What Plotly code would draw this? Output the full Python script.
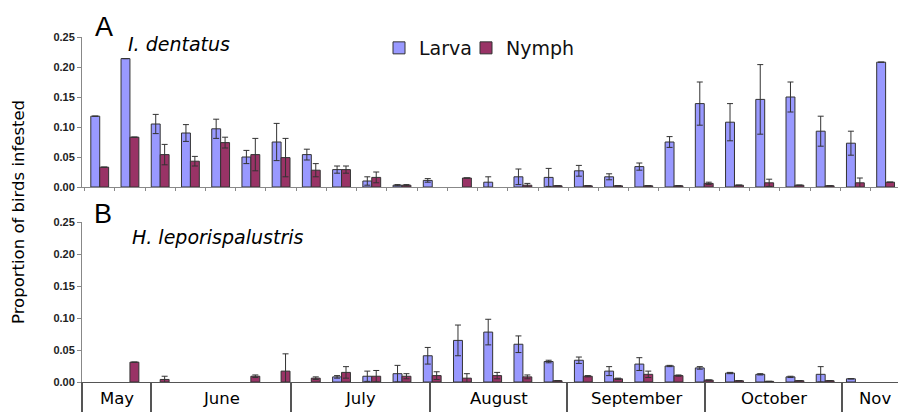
import plotly.graph_objects as go

# ---------------- data ----------------
weeks = list(range(27))  # weekly sampling periods (category index)

# Panel A: I. dentatus
a_larva = [0.118, 0.214, 0.105, 0.090, 0.097, 0.050, 0.075, 0.054, 0.029, 0.010,
           0.003, 0.011, None, 0.008, 0.017, 0.016, 0.027, 0.017, 0.034, 0.075,
           0.139, 0.108, 0.146, 0.150, 0.093, 0.073, 0.208]
a_larva_err = [None, None, 0.016, 0.014, 0.016, 0.011, 0.031, 0.009, 0.006, 0.007,
               0.001, 0.003, None, 0.009, 0.013, 0.015, 0.009, 0.005, 0.006, 0.009,
               0.036, 0.031, 0.058, 0.025, 0.025, 0.020, None]
a_nymph = [0.033, 0.083, 0.054, 0.043, 0.074, 0.054, 0.049, 0.028, 0.029, 0.016,
           0.003, None, 0.015, None, 0.003, 0.002, 0.002, 0.002, 0.002, 0.002,
           0.006, 0.003, 0.007, 0.003, 0.002, 0.007, 0.008]
a_nymph_err = [None, None, 0.017, 0.008, 0.009, 0.027, 0.032, 0.011, 0.006, 0.009,
               0.001, None, None, None, 0.003, None, None, None, None, None,
               0.002, None, 0.006, None, None, 0.008, None]

# Panel B: H. leporispalustris
b_larva = [None, None, None, None, None, None, None, None, 0.008, 0.009,
           0.013, 0.041, 0.065, 0.078, 0.059, 0.032, 0.034, 0.017, 0.028, 0.025,
           0.022, 0.014, 0.012, 0.008, 0.012, 0.005, None]
b_larva_err = [None, None, None, None, None, None, None, None, 0.002, 0.008,
               0.013, 0.013, 0.024, 0.020, 0.013, 0.002, 0.005, 0.007, 0.010, 0.001,
               0.002, 0.001, 0.001, 0.001, 0.012, None, None]
b_nymph = [None, 0.031, 0.004, None, None, 0.009, 0.017, 0.006, 0.015, 0.009,
           0.009, 0.010, 0.006, 0.010, 0.008, 0.002, 0.009, 0.005, 0.012, 0.010,
           0.003, 0.002, 0.001, 0.002, 0.002, None, None]
b_nymph_err = [None, None, 0.005, None, None, 0.002, 0.027, 0.002, 0.009, 0.009,
               0.004, 0.006, 0.007, 0.005, 0.003, None, 0.001, 0.001, 0.005, 0.001,
               None, None, None, None, None, None, None]

months = ["May", "June", "July", "August", "September", "October", "Nov"]
month_edges = [-0.5865, 1.71, 6.33, 10.92, 15.47, 20.02, 24.57, 26.41]

y_ticks = [0.00, 0.05, 0.10, 0.15, 0.20, 0.25]

# ---------------- styling ----------------
OFF = 8                              # page body margin of the browser
W, H = 906 - 2 * OFF, 412 - OFF      # figure size so it fills the visible window
LARVA = "#9999FF"
NYMPH = "#993366"
OUT = "#333333"


def px_x(px):
    return (px - OFF) / W


def px_y(px):
    return 1 - (px - OFF) / H


def err(arr):
    return dict(type="data", array=arr, visible=True, color="#333333",
                thickness=1, width=3)


fig = go.Figure()
fig.add_bar(x=weeks, y=a_larva, name="Larva", marker=dict(color=LARVA, line=dict(color=OUT, width=1)),
            error_y=err(a_larva_err), xaxis="x", yaxis="y", legendgroup="L", legend="legend")
fig.add_bar(x=weeks, y=a_nymph, name="Nymph", marker=dict(color=NYMPH, line=dict(color=OUT, width=1)),
            error_y=err(a_nymph_err), xaxis="x", yaxis="y", legendgroup="N", legend="legend2")
fig.add_bar(x=weeks, y=b_larva, name="Larva", marker=dict(color=LARVA, line=dict(color=OUT, width=1)),
            error_y=err(b_larva_err), xaxis="x2", yaxis="y2", showlegend=False, legendgroup="L")
fig.add_bar(x=weeks, y=b_nymph, name="Nymph", marker=dict(color=NYMPH, line=dict(color=OUT, width=1)),
            error_y=err(b_nymph_err), xaxis="x2", yaxis="y2", showlegend=False, legendgroup="N")

xr = [month_edges[0], month_edges[-1]]
tickfont = dict(family="Liberation Sans, Arial", size=11, color="#222222", weight="bold")

yax = dict(range=[0, 0.25], tickvals=y_ticks, tickformat=".2f", showline=True,
           linecolor="#888888", linewidth=1, ticks="outside", ticklen=4, tickcolor="#888888",
           showgrid=False, zeroline=False, tickfont=tickfont, fixedrange=True,
           automargin=False)

legfont = dict(family="DejaVu Sans", size=19, color="#111111")

fig.update_layout(
    width=W, height=H,
    margin=dict(l=0, r=0, t=0, b=0, autoexpand=False),
    paper_bgcolor="white", plot_bgcolor="white",
    barmode="group", bargap=0.41, bargroupgap=0.0,
    xaxis=dict(domain=[px_x(82), 1], range=xr, anchor="y", showline=True, linecolor="#888888",
               ticks="outside", ticklen=3, tickcolor="#888888",
               tickvals=[k - 0.5 for k in range(28)], showticklabels=False,
               showgrid=False, zeroline=False, automargin=False),
    xaxis2=dict(domain=[px_x(82), 1], range=xr, anchor="y2", matches="x", showline=True,
                linecolor="#555555", linewidth=1.2, ticks="outside", ticklen=31, tickwidth=1.5,
                tickcolor="#555555", tickvals=month_edges[:-1], showticklabels=False,
                showgrid=False, zeroline=False, automargin=False),
    yaxis=dict(domain=[px_y(187), px_y(37)], anchor="x", **yax),
    yaxis2=dict(domain=[px_y(382), px_y(222)], anchor="x2", **yax),
    legend=dict(orientation="h", x=px_x(379), y=px_y(29), xanchor="left", yanchor="top",
                font=legfont, bgcolor="rgba(0,0,0,0)", itemclick=False),
    legend2=dict(orientation="h", x=px_x(466), y=px_y(29), xanchor="left", yanchor="top",
                 font=legfont, bgcolor="rgba(0,0,0,0)", itemclick=False),
    showlegend=True,
)

ann = []


def label(text, x, y, size, family="DejaVu Sans", xanchor="center", angle=0, xref="paper"):
    ann.append(dict(text=text, x=x, y=y, xref=xref, yref="paper", xanchor=xanchor,
                    yanchor="middle", textangle=angle, showarrow=False,
                    font=dict(family=family, size=size, color="#000000")))


label("A", px_x(104), px_y(27), 27, family="Liberation Sans, Arial")
label("<i>I. dentatus</i>", px_x(126), px_y(44), 19, xanchor="left")
label("B", px_x(103), px_y(214), 27, family="Liberation Sans, Arial")
label("<i>H. leporispalustris</i>", px_x(130), px_y(237), 19, xanchor="left")
label("Proportion of birds infested", px_x(18), px_y(212), 16.5, angle=-90)
for i, m in enumerate(months):
    mid = (month_edges[i] + month_edges[i + 1]) / 2
    if m == "Nov":
        mid += 0.15
    label(m, mid, px_y(398), 16.5, xref="x2")
fig.update_layout(annotations=ann)

fig.write_html("out.html")
